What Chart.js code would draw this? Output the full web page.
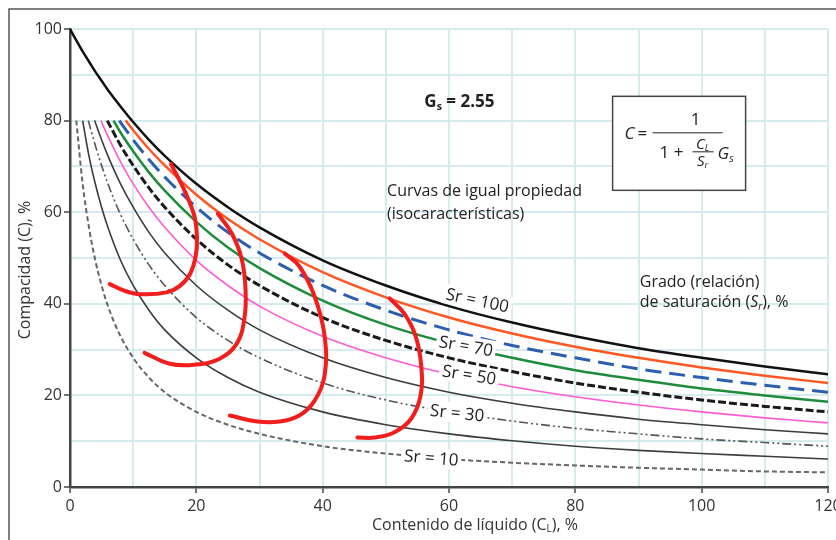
<!DOCTYPE html>
<html>
<head>
<meta charset="utf-8">
<script src="https://cdn.jsdelivr.net/npm/chart.js@4.4.1/dist/chart.umd.min.js"></script>
<style>
    body { margin: 0; background: #fff; }
    #wrap { position: relative; width: 836px; height: 540px; }
</style>
</head>
<body>
<div id="wrap"><canvas id="chart"></canvas></div>
<script>
// liquid content (CL, %) where the curves were read
const CL = [0, 1, 2, 3, 4, 5, 6, 8, 10, 12.5, 15, 20, 25, 30, 40, 50, 60, 70, 80, 90, 100, 110, 120];
const SR = [100, 90, 80, 70, 60, 50, 40, 30, 20, 10];
// where each curve begins (top of the curve)
const START_CL = [0, 8.8, 7.8, 6.9, 5.9, 4.9, 3.9, 2.9, 2.0, 1.0];
const START_C = [100, 80, 80, 80, 80, 80, 80, 80, 80, 80];

// compactness C (%) read at each CL
const sr100 = [100, 97.5, 95.1, 92.9, 90.7, 88.7, 86.7, 83.1, 79.7, 75.8, 72.3, 66.2, 61.1, 56.7, 49.5, 44.0, 39.5, 35.9, 32.9, 30.3, 28.2, 26.3, 24.6];
const sr90 = [null, null, null, null, null, null, null, null, 77.9, 73.8, 70.2, 63.8, 58.5, 54.1, 46.9, 41.4, 37.0, 33.5, 30.6, 28.2, 26.1, 24.3, 22.7];
const sr80 = [null, null, null, null, null, null, null, null, 75.8, 71.5, 67.7, 61.1, 55.6, 51.1, 44.0, 38.6, 34.3, 30.9, 28.2, 25.8, 23.9, 22.2, 20.7];
const sr70 = [null, null, null, null, null, null, null, 77.4, 73.3, 68.7, 64.7, 57.9, 52.3, 47.8, 40.7, 35.4, 31.4, 28.2, 25.5, 23.4, 21.5, 20.0, 18.6];
const sr60 = [null, null, null, null, null, null, null, 74.6, 70.2, 65.3, 61.1, 54.1, 48.5, 44.0, 37.0, 32.0, 28.2, 25.2, 22.7, 20.7, 19.0, 17.6, 16.4];
const sr50 = [null, null, null, null, null, null, 76.6, 71.0, 66.2, 61.1, 56.7, 49.5, 44.0, 39.5, 32.9, 28.2, 24.6, 21.9, 19.7, 17.9, 16.4, 15.1, 14.0];
const sr40 = [null, null, null, null, null, 75.8, 72.3, 66.2, 61.1, 55.6, 51.1, 44.0, 38.6, 34.3, 28.2, 23.9, 20.7, 18.3, 16.4, 14.8, 13.6, 12.5, 11.6];
const sr30 = [null, null, null, null, 74.6, 70.2, 66.2, 59.5, 54.1, 48.5, 44.0, 37.0, 32.0, 28.2, 22.7, 19.0, 16.4, 14.4, 12.8, 11.6, 10.5, 9.7, 8.9];
const sr20 = [null, null, null, 72.3, 66.2, 61.1, 56.7, 49.5, 44.0, 38.6, 34.3, 28.2, 23.9, 20.7, 16.4, 13.6, 11.6, 10.1, 8.9, 8.0, 7.3, 6.7, 6.1];
const sr10 = [null, null, 66.2, 56.7, 49.5, 44.0, 39.5, 32.9, 28.2, 23.9, 20.7, 16.4, 13.6, 11.6, 8.9, 7.3, 6.1, 5.3, 4.7, 4.2, 3.8, 3.4, 3.2];
const SERIES = [sr100, sr90, sr80, sr70, sr60, sr50, sr40, sr30, sr20, sr10];

// hand drawn red arcs
const redA_x = [16.0, 18.2, 19.7, 20.1, 19.9, 19.0, 17.4, 15.3, 11.1, 8.7, 6.3];
const redA_y = [70.5, 64.5, 59.1, 54.3, 50.4, 46.5, 43.9, 42.5, 42.1, 42.8, 44.3];
const redB_x = [23.4, 25.6, 27.2, 27.8, 27.6, 26.4, 23.7, 19.7, 15.8, 11.8];
const redB_y = [59.7, 55.4, 49.7, 42.8, 36.7, 31.3, 28.0, 26.7, 26.9, 29.3];
const redC_x = [34.0, 36.3, 38.7, 40.3, 40.3, 38.7, 36.3, 33.2, 29.7, 25.3];
const redC_y = [51.0, 48.2, 41.7, 33.0, 24.3, 18.8, 15.6, 14.3, 14.3, 15.6];
const redD_x = [50.6, 52.9, 54.7, 55.6, 55.5, 54.0, 51.3, 48.2, 45.5];
const redD_y = [41.2, 37.9, 33.0, 26.5, 20.0, 14.9, 11.9, 10.8, 10.8];

const TICK_STEP = 10;
const LABEL_STEP = 20;

const FONT = "'Open Sans', sans-serif";

// line look per Sr curve
const curveStyle = {
    100: { color: '#111111', width: 2.5, dash: [] },
    90: { color: '#ff5622', width: 2.5, dash: [] },
    80: { color: '#2b5eae', width: 3, dash: [16, 8] },
    70: { color: '#1f8c3b', width: 2.5, dash: [] },
    60: { color: '#1a1a1a', width: 3, dash: [8, 3] },
    50: { color: '#ff5bd2', width: 1.6, dash: [] },
    40: { color: '#3c3c3c', width: 1.6, dash: [] },
    30: { color: '#555555', width: 1.6, dash: [9, 3, 2, 3, 2, 3] },
    20: { color: '#3c3c3c', width: 1.6, dash: [] },
    10: { color: '#666666', width: 2, dash: [5, 3] }
};

function curvePoints(i) {
    var pts = [{ x: START_CL[i], y: START_C[i] }];
    CL.forEach(function (x, j) {
        if (SERIES[i][j] !== null && x > START_CL[i]) pts.push({ x: x, y: SERIES[i][j] });
    });
    return pts;
}

function zip(xs, ys) {
    return xs.map(function (x, k) { return { x: x, y: ys[k] }; });
}

var datasets = [];
[[redA_x, redA_y], [redB_x, redB_y], [redC_x, redC_y], [redD_x, redD_y]].forEach(function (r) {
    datasets.push({
        data: zip(r[0], r[1]),
        borderColor: '#f21d1d',
        borderWidth: 4,
        pointRadius: 0,
        tension: 0.4,
        borderCapStyle: 'round',
        borderJoinStyle: 'round'
    });
});
SR.forEach(function (sr, i) {
    var st = curveStyle[sr];
    datasets.push({
        label: 'Sr = ' + sr,
        data: curvePoints(i),
        borderColor: st.color,
        borderWidth: st.width,
        borderDash: st.dash,
        pointRadius: 0,
        cubicInterpolationMode: 'monotone'
    });
});

// text with a subscript part
function subText(ctx, parts, x, y, size, weight, align) {
    var w = 0;
    parts.forEach(function (p) {
        ctx.font = (p.italic ? 'italic ' : '') + weight + ' ' + (p.sub ? size * 0.62 : size) + 'px ' + FONT;
        w += ctx.measureText(p.t).width;
    });
    var cx = align === 'center' ? x - w / 2 : x;
    ctx.textAlign = 'left';
    ctx.textBaseline = 'middle';
    parts.forEach(function (p) {
        ctx.font = (p.italic ? 'italic ' : '') + weight + ' ' + (p.sub ? size * 0.62 : size) + 'px ' + FONT;
        ctx.fillText(p.t, cx, p.sub ? y + size * 0.28 : y);
        cx += ctx.measureText(p.t).width;
    });
}

const srLabels = [
    { t: 'Sr = 100', x: 64.5, y: 40.8, rot: 12 },
    { t: 'Sr = 70', x: 62.7, y: 30.8, rot: 10 },
    { t: 'Sr = 50', x: 63.2, y: 24.5, rot: 9 },
    { t: 'Sr = 30', x: 61.3, y: 16.2, rot: 6 },
    { t: 'Sr = 10', x: 57.2, y: 6.4, rot: 5 }
];

const notesPlugin = {
    id: 'notes',
    beforeDraw: function (chart) {
        var ctx = chart.ctx;
        ctx.save();
        ctx.strokeStyle = '#555';
        ctx.lineWidth = 1.5;
        ctx.beginPath();
        ctx.moveTo(9, 540);
        ctx.lineTo(9, 9);
        ctx.lineTo(836, 9);
        ctx.stroke();
        ctx.restore();
    },
    afterDatasetsDraw: function (chart) {
        var ctx = chart.ctx;
        var sx = chart.scales.x, sy = chart.scales.y;
        ctx.save();
        ctx.fillStyle = '#222';

        // Sr labels on white patches
        srLabels.forEach(function (l) {
            ctx.save();
            ctx.translate(sx.getPixelForValue(l.x), sy.getPixelForValue(l.y));
            ctx.rotate(l.rot * Math.PI / 180);
            ctx.font = '17px ' + FONT;
            var w = ctx.measureText(l.t).width;
            ctx.fillStyle = '#fff';
            ctx.fillRect(-w / 2 - 3, -10, w + 6, 20);
            ctx.fillStyle = '#222';
            ctx.textAlign = 'center';
            ctx.textBaseline = 'middle';
            ctx.fillText(l.t, 0, 1);
            ctx.restore();
        });

        // Gs
        subText(ctx, [{ t: 'G' }, { t: 's', sub: true }, { t: ' = 2.55' }],
            sx.getPixelForValue(56.1), sy.getPixelForValue(84.1), 17, 'bold', 'left');

        ctx.font = '16px ' + FONT;
        ctx.textAlign = 'left';
        ctx.textBaseline = 'middle';
        ctx.fillText('Curvas de igual propiedad', sx.getPixelForValue(50.2), sy.getPixelForValue(64.5));
        ctx.fillText('(isocaracterísticas)', sx.getPixelForValue(50.2), sy.getPixelForValue(59.5));

        ctx.fillText('Grado (relación)', sx.getPixelForValue(90.2), sy.getPixelForValue(44.7));
        subText(ctx, [{ t: 'de saturación (' }, { t: 'S', italic: true }, { t: 'r', sub: true, italic: true }, { t: '), %' }],
            sx.getPixelForValue(90.2), sy.getPixelForValue(40.3), 16, 'normal', 'left');

        // formula box
        var bx = sx.getPixelForValue(85.9), by = sy.getPixelForValue(85.3);
        ctx.fillStyle = '#fff';
        ctx.fillRect(bx, by, 133, 94);
        ctx.strokeStyle = '#444';
        ctx.lineWidth = 1.5;
        ctx.strokeRect(bx, by, 133, 94);
        ctx.fillStyle = '#222';
        ctx.font = 'italic 17px ' + FONT;
        ctx.textBaseline = 'middle';
        ctx.textAlign = 'left';
        ctx.fillText('C', bx + 12, by + 38);
        ctx.font = '17px ' + FONT;
        ctx.fillText('=', bx + 25, by + 38);
        ctx.lineWidth = 1;
        ctx.strokeStyle = '#222';
        ctx.beginPath();
        ctx.moveTo(bx + 40, by + 36.5);
        ctx.lineTo(bx + 110, by + 36.5);
        ctx.stroke();
        ctx.textAlign = 'center';
        ctx.fillText('1', bx + 83, by + 24);
        ctx.textAlign = 'left';
        ctx.fillText('1 +', bx + 47, by + 57);
        subText(ctx, [{ t: 'C', italic: true }, { t: 'L', sub: true, italic: true }], bx + 90, by + 48, 15, 'normal', 'center');
        ctx.beginPath();
        ctx.moveTo(bx + 80, by + 55.5);
        ctx.lineTo(bx + 101, by + 55.5);
        ctx.stroke();
        subText(ctx, [{ t: 'S', italic: true }, { t: 'r', sub: true, italic: true }], bx + 90, by + 65, 15, 'normal', 'center');
        subText(ctx, [{ t: 'G', italic: true }, { t: 's', sub: true, italic: true }], bx + 105, by + 58, 17, 'normal', 'left');

        // axis titles
        ctx.fillStyle = '#333';
        subText(ctx, [{ t: 'Contenido de líquido (C' }, { t: 'L', sub: true }, { t: '), %' }], 475, 525, 16, 'normal', 'center');
        ctx.save();
        ctx.translate(25, 270);
        ctx.rotate(-Math.PI / 2);
        ctx.font = '16px ' + FONT;
        ctx.textAlign = 'center';
        ctx.textBaseline = 'middle';
        ctx.fillText('Compacidad (C), %', 0, 0);
        ctx.restore();

        ctx.restore();
    }
};

function tickMark(ctx) {
    return ctx.tick && ctx.tick.value % LABEL_STEP === 0 ? '#444' : 'rgba(0,0,0,0)';
}

var chart = new Chart(document.getElementById('chart'), {
    type: 'line',
    data: { datasets: datasets },
    plugins: [notesPlugin],
    options: {
        responsive: true,
        maintainAspectRatio: false,
        animation: false,
        layout: { padding: { left: 10, top: 29, right: 8, bottom: 8 } },
        plugins: {
            legend: { display: false },
            tooltip: { enabled: false }
        },
        scales: {
            x: {
                type: 'linear',
                min: 0,
                max: 120,
                afterFit: function (s) { s.height = 45; s.paddingLeft = 0; s.paddingRight = 0; },
                ticks: {
                    stepSize: TICK_STEP,
                    autoSkip: false,
                    maxRotation: 0,
                    color: '#333',
                    font: { family: FONT, size: 16 },
                    padding: 4,
                    callback: function (v) { return v % LABEL_STEP === 0 ? v : ''; }
                },
                grid: { color: '#d5ebed', lineWidth: 2, tickLength: 6, tickColor: tickMark, tickWidth: 1.5 },
                border: { color: '#444', width: 2.5 }
            },
            y: {
                min: 0,
                max: 100,
                afterFit: function (s) { s.width = 60; s.paddingTop = 0; s.paddingBottom = 0; },
                ticks: {
                    stepSize: TICK_STEP,
                    autoSkip: false,
                    color: '#333',
                    font: { family: FONT, size: 16 },
                    padding: 2,
                    callback: function (v) { return v % LABEL_STEP === 0 ? v : ''; }
                },
                grid: { color: '#d5ebed', lineWidth: 2, tickLength: 6, tickColor: tickMark, tickWidth: 1.5 },
                border: { color: '#444', width: 2.5 }
            }
        }
    }
});
</script>
</body>
</html>
